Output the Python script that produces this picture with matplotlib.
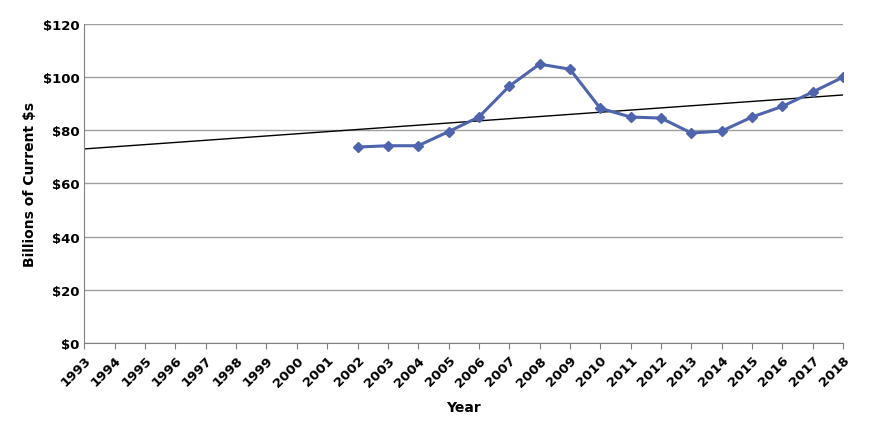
import matplotlib
matplotlib.use("Agg")
import matplotlib.pyplot as plt

years = list(range(2002, 2019))
values = [73.7, 74.2, 74.2, 79.5, 85.0, 96.6, 104.9, 103.0, 88.3, 85.0, 84.6, 79.0, 79.7, 85.0, 89.0, 94.4, 100.0]
trend_x = [1993, 2018]
trend_y = [73.0, 93.3]
tick_years = list(range(1993, 2019))
y_ticks = [0, 20, 40, 60, 80, 100, 120]

plt.rcParams["font.family"] = "DejaVu Sans"
fig = plt.figure(figsize=(8.7, 4.31), dpi=100)
ax = fig.add_axes([0.097, 0.202, 0.872, 0.74])
ax.plot(trend_x, trend_y, color="black", lw=1)
ax.plot(years, values, color="#4E64AC", lw=2.2, marker="D", markersize=5.5)
ax.set_xlim(1993, 2018)
ax.set_ylim(0, 120)
ax.set_yticks(y_ticks)
ax.set_yticklabels([f"${v}" for v in y_ticks], fontsize=9.5, fontweight="bold")
ax.set_xticks(tick_years)
ax.set_xticklabels([str(y) for y in tick_years], rotation=45, ha="right", rotation_mode="anchor", fontsize=9.5, fontweight="bold")
ax.grid(axis="y", color="#a0a0a0", lw=1)
ax.set_axisbelow(True)
for s in ["top", "right"]:
    ax.spines[s].set_visible(False)
ax.spines["left"].set_color("#808080")
ax.spines["bottom"].set_color("#808080")
ax.tick_params(axis="x", length=4, color="#808080")
ax.tick_params(axis="y", length=0)
ax.set_ylabel("Billions of Current $s", fontsize=10, fontweight="bold")
ax.set_xlabel("Year", fontsize=10, fontweight="bold", labelpad=8)
fig.savefig("out.png", dpi=100)
